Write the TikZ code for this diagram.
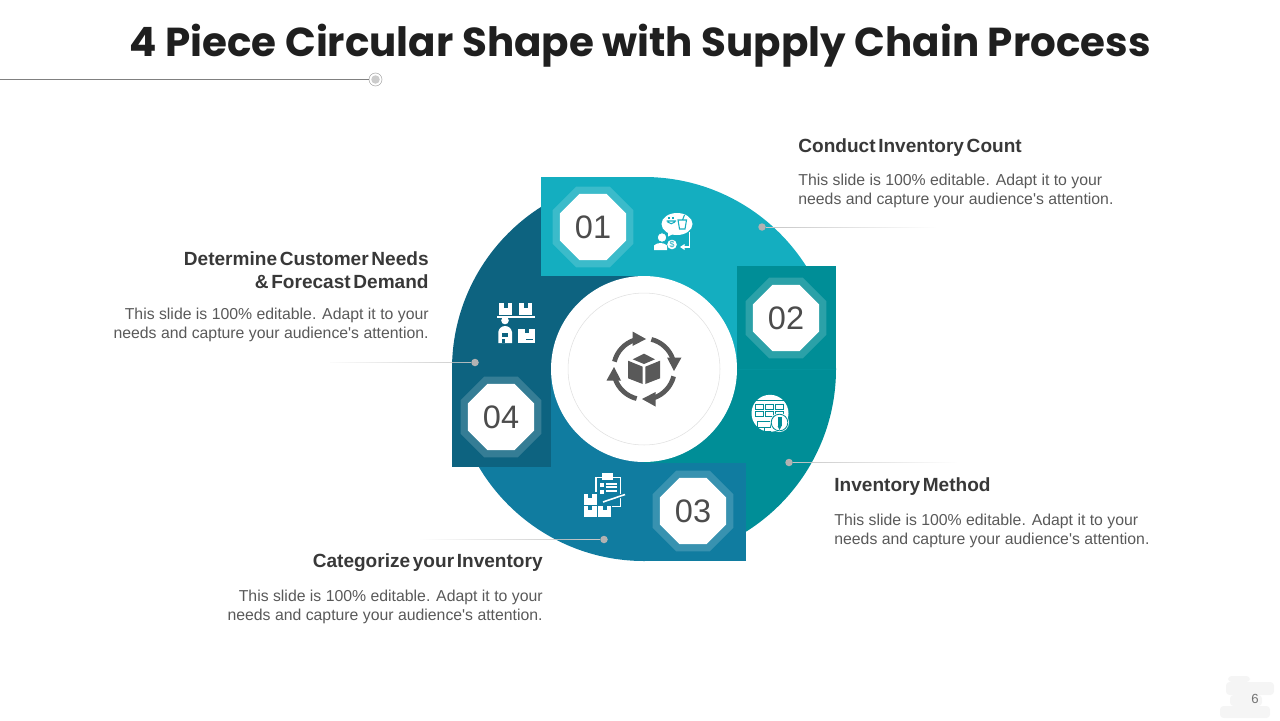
\documentclass[tikz,border=0pt]{standalone}
\usepackage{fontspec}
\usepackage{tikz}
\usetikzlibrary{calc,fadings,shapes.geometric}
\setmainfont{Liberation Sans}
\newfontfamily\titlefont{Poppins}
\newfontfamily\headfont[WordSpace=0.5]{Liberation Sans}
\definecolor{segA}{HTML}{14AEC0}
\definecolor{segB}{HTML}{008E97}
\definecolor{segC}{HTML}{107CA0}
\definecolor{segD}{HTML}{0D6380}
\definecolor{icongray}{HTML}{595959}
\tikzfading[name=leadright,left color=transparent!0,right color=transparent!100]
\tikzfading[name=leadleft,left color=transparent!100,right color=transparent!0]

\begin{document}
\begin{tikzpicture}[
x=0.02cm,y=-0.02cm,
outeroct/.style={
regular polygon,
regular polygon sides=8,
inner sep=0pt,
minimum size=1.75cm,
fill=white,
fill opacity=0.17
},
inneroct/.style={
regular polygon,
regular polygon sides=8,
inner sep=0pt,
minimum size=1.43cm,
fill=white,
text=black!70,
font=\fontsize{18.5}{19}\selectfont
},
dotmark/.style={
circle,
fill=black!30,
inner sep=0pt,
minimum size=0.15cm
},
heading/.style={
inner sep=0pt,
text=black!78,
font=\headfont\bfseries\fontsize{10.85}{13}\selectfont
},
bodytext/.style={
inner sep=0pt,
text=black!65,
font=\fontsize{9}{10.8}\selectfont
},
leadline/.style n args={3}{
draw=black!22,
line width=0.5pt,
path fading=#1,
fit fading=false,
fading transform={shift={($(#2)!.5!(#3)$)},xscale=1.9}
}
]

\useasboundingbox (0,0) rectangle (1280,720);

%---------------- Title ----------------%

\node[inner sep=0pt,text=black!88,font=\titlefont\bfseries\fontsize{23}{26}\selectfont] (title) at (640,46)
{4 Piece Circular Shape with Supply Chain Process};

\coordinate (rulestart) at (0,79.5);
\node[circle,draw=black!35,fill=white,line width=0.3pt,inner sep=0pt,minimum size=0.26cm] (rulering) at (375.5,79.5) {};
\node[circle,fill=black!20,inner sep=0pt,minimum size=0.17cm] (ruledot) at (375.5,79.5) {};
\draw[black!50,line width=0.5pt] (rulestart)--(rulering);

%---------------- Ring ----------------%

\coordinate (ctr) at (644,369);

\fill[segD] (ctr)--(452,369) arc[start angle=180,end angle=270,radius=192]--cycle;
\fill[segC] (ctr)--(644,561) arc[start angle=90,end angle=180,radius=192]--cycle;
\fill[segB] (ctr)--(836,369) arc[start angle=0,end angle=90,radius=192]--cycle;
\fill[segA] (ctr)--(644,177) arc[start angle=-90,end angle=0,radius=192]--cycle;

\fill[segA] (541,177) rectangle (644,276);
\fill[segB] (737,266) rectangle (836,369);
\fill[segC] (644,463) rectangle (746,561);
\fill[segD] (452,369) rectangle (551,467);

\node[circle,fill=white,inner sep=0pt,minimum size=3.72cm] (disc) at (ctr) {};
\node[circle,draw=black!12,line width=0.3pt,inner sep=0pt,minimum size=3.04cm] (discring) at (ctr) {};

%---------------- Number boxes ----------------%

\node[outeroct] (oa) at (593,227) {};
\node[outeroct] (ob) at (786,318) {};
\node[outeroct] (oc) at (693,511) {};
\node[outeroct] (od) at (501,417) {};

\node[inneroct] (na) at (593,227) {01};
\node[inneroct] (nb) at (786,318) {02};
\node[inneroct] (nc) at (693,511) {03};
\node[inneroct] (nd) at (501,417) {04};

%---------------- Centre icon ----------------%

\fill[icongray] (644,353.7)--(655,359.3)--(644,364)--(632.7,359.3)--cycle;
\fill[icongray] (628,360.7)--(642.7,366.7)--(642.7,384)--(628,378.3)--cycle;
\fill[icongray] (660,360.7)--(645.3,366.7)--(645.3,384)--(660,378.3)--cycle;
\foreach \ang in {0,-90,-180,-270}{
\begin{scope}[shift={(ctr)},rotate=\ang]
\draw[icongray,line width=2.7pt] (-166:30.5) arc[start angle=-166,end angle=-108,radius=30.5];
\fill[icongray] (2,-30)--(-11.5,-37.5)--(-11.5,-23)--cycle;
\end{scope}
}

%---------------- Icon 01 ----------------%

\fill[white] (677,224) ellipse[x radius=15.5,y radius=11];
\fill[white] (668,230)--(675,233)--(668,236.5)--cycle;
\draw[segA,line width=0.6pt] (666.5,221)--(676,221) (667.5,222) to[bend right=50] (675,222);
\draw[segA,line width=0.6pt] (669,218.5)--(669,216.5) (673,218.5)--(673,216.5);
\draw[segA,line width=0.6pt] (678,220)--(686.5,220)--(685,229)--(679.5,229)--cycle (682.5,220)--(684.5,215);
\filldraw[fill=white,draw=segA,line width=0.5pt] (662,237.5) circle[radius=4.8];
\fill[white] (654,250)--(654,245.5) to[bend left=20] (660.5,243) to[bend left=20] (667,245.5)--(667,250)--cycle;
\fill[white] (672,244.5) circle[radius=4.8];
\node[inner sep=0pt,text=segA,font=\fontsize{5}{5}\selectfont] (coin) at (672,244.5) {\$};
\draw[white,line width=0.7pt] (689.5,232)--(689.5,247)--(683,247);
\fill[white] (680,247)--(684.5,244)--(684.5,250)--cycle;

%---------------- Icon 02 ----------------%

\fill[white] (770,413.3) circle[radius=18.5];
\draw[segB,line width=0.7pt] (754,400.5)--(785,400.5);
\foreach \xc in {755,765,775}{
\draw[segB,line width=0.5pt] (\xc,404) rectangle ++(8,5);
\draw[segB,line width=0.5pt] (\xc,411.5) rectangle ++(8,5);
}
\draw[segB,line width=0.5pt] (757,421) rectangle (770,427);
\draw[segB,line width=0.5pt] (764,427)--(764,431) (758,431)--(771,431);
\fill[white] (779.5,422.5) circle[radius=9.5];
\draw[segB,line width=0.5pt] (779.5,422.5) circle[radius=8.3];
\fill[segB] (777.5,416.5) rectangle (781.5,426);
\fill[segB] (777.5,426)--(781.5,426)--(779.5,430)--cycle;

%---------------- Icon 03 ----------------%

\draw[white,line width=1pt] (596,492)--(596,477.5)--(620.5,477.5)--(620.5,506.5)--(612,506.5);
\fill[white] (601.7,473.3) rectangle (613,479.5);
\fill[white] (599.5,483) rectangle (603.5,487);
\fill[white] (599.5,490) rectangle (603.5,494);
\draw[white,line width=0.7pt] (605.5,484)--(616.5,484) (605.5,487)--(616.5,487) (605.5,491)--(616.5,491);
\fill[white] (583.5,493.5) rectangle (596.5,505);
\fill[white] (583.5,506) rectangle (596.5,517);
\fill[white] (597.7,506) rectangle (611,517);
\fill[segC] (588,493.5) rectangle (592,497.5);
\fill[segC] (588,506) rectangle (592,510);
\fill[segC] (602.5,506) rectangle (606.5,510);
\draw[segC,line width=2.2pt] (625,494.5)--(603,502);
\draw[white,line width=0.9pt] (625,494.5)--(603,502);

%---------------- Icon 04 ----------------%

\fill[white] (499,303.3) rectangle (512.3,314.5);
\fill[white] (519,303.3) rectangle (532.3,314.5);
\fill[segD] (503.5,303.3) rectangle (507.5,308);
\fill[segD] (523.5,303.3) rectangle (527.5,308);
\draw[white,line width=0.6pt] (497,317)--(535,317);
\fill[white] (505,320.5) circle[radius=3.8];
\fill[white] (498.3,343)--(498.3,332) to[bend left=40] (505,326) to[bend left=40] (512,332)--(512,343)--cycle;
\fill[segD] (502,333) rectangle (508,336.5);
\fill[segD] (502,338.5) rectangle (504.5,343);
\fill[white] (518.3,328.5) rectangle (535,343.3);
\fill[segD] (524.5,328.5) rectangle (529,333);
\fill[segD] (526,339) rectangle (533,340.3);

%---------------- Labels ----------------%

\node[heading,anchor=west] (heada) at (798,148) {Conduct Inventory Count};
\node[bodytext,anchor=north west,align=left] (bodya) at (798,174)
{This slide is 100\% editable. Adapt it to your\\needs and capture your audience\textquotesingle s attention.};

\node[heading,anchor=west] (headb) at (834,487) {Inventory Method};
\node[bodytext,anchor=north west,align=left] (bodyb) at (834,514)
{This slide is 100\% editable. Adapt it to your\\needs and capture your audience\textquotesingle s attention.};

\node[heading,anchor=east] (headc) at (543,563) {Categorize your Inventory};
\node[bodytext,anchor=north east,align=right] (bodyc) at (543,590)
{This slide is 100\% editable. Adapt it to your\\needs and capture your audience\textquotesingle s attention.};

\node[heading,anchor=north east,align=right] (headd) at (429,251)
{Determine Customer Needs\\\& Forecast Demand};
\node[bodytext,anchor=north east,align=right] (bodyd) at (429,308)
{This slide is 100\% editable. Adapt it to your\\needs and capture your audience\textquotesingle s attention.};

%---------------- Connections ----------------%

\node[dotmark] (dota) at (762,227) {};
\node[dotmark] (dotb) at (789,462.5) {};
\node[dotmark] (dotc) at (604,539.5) {};
\node[dotmark] (dotd) at (475,362.5) {};

\coordinate (enda) at (945,227);
\coordinate (endb) at (960,462.5);
\coordinate (endc) at (400,539.5);
\coordinate (endd) at (330,362.5);

\draw[leadline={leadright}{dota}{enda}] (dota)--(enda);
\draw[leadline={leadright}{dotb}{endb}] (dotb)--(endb);
\draw[leadline={leadleft}{dotc}{endc}] (dotc)--(endc);
\draw[leadline={leadleft}{dotd}{endd}] (dotd)--(endd);

%---------------- Page mark ----------------%

\fill[black!4,rounded corners=2pt] (1228,676) rectangle (1250,682);
\fill[black!4,rounded corners=2pt] (1226,682) rectangle (1274,695);
\fill[black!4,rounded corners=2pt] (1230,695) rectangle (1262,706);
\fill[black!4,rounded corners=2pt] (1220,706) rectangle (1270,718);
\node[inner sep=0pt,text=black!55,font=\fontsize{7.5}{8}\selectfont] (pagenum) at (1255,699) {6};

\end{tikzpicture}
\end{document}
